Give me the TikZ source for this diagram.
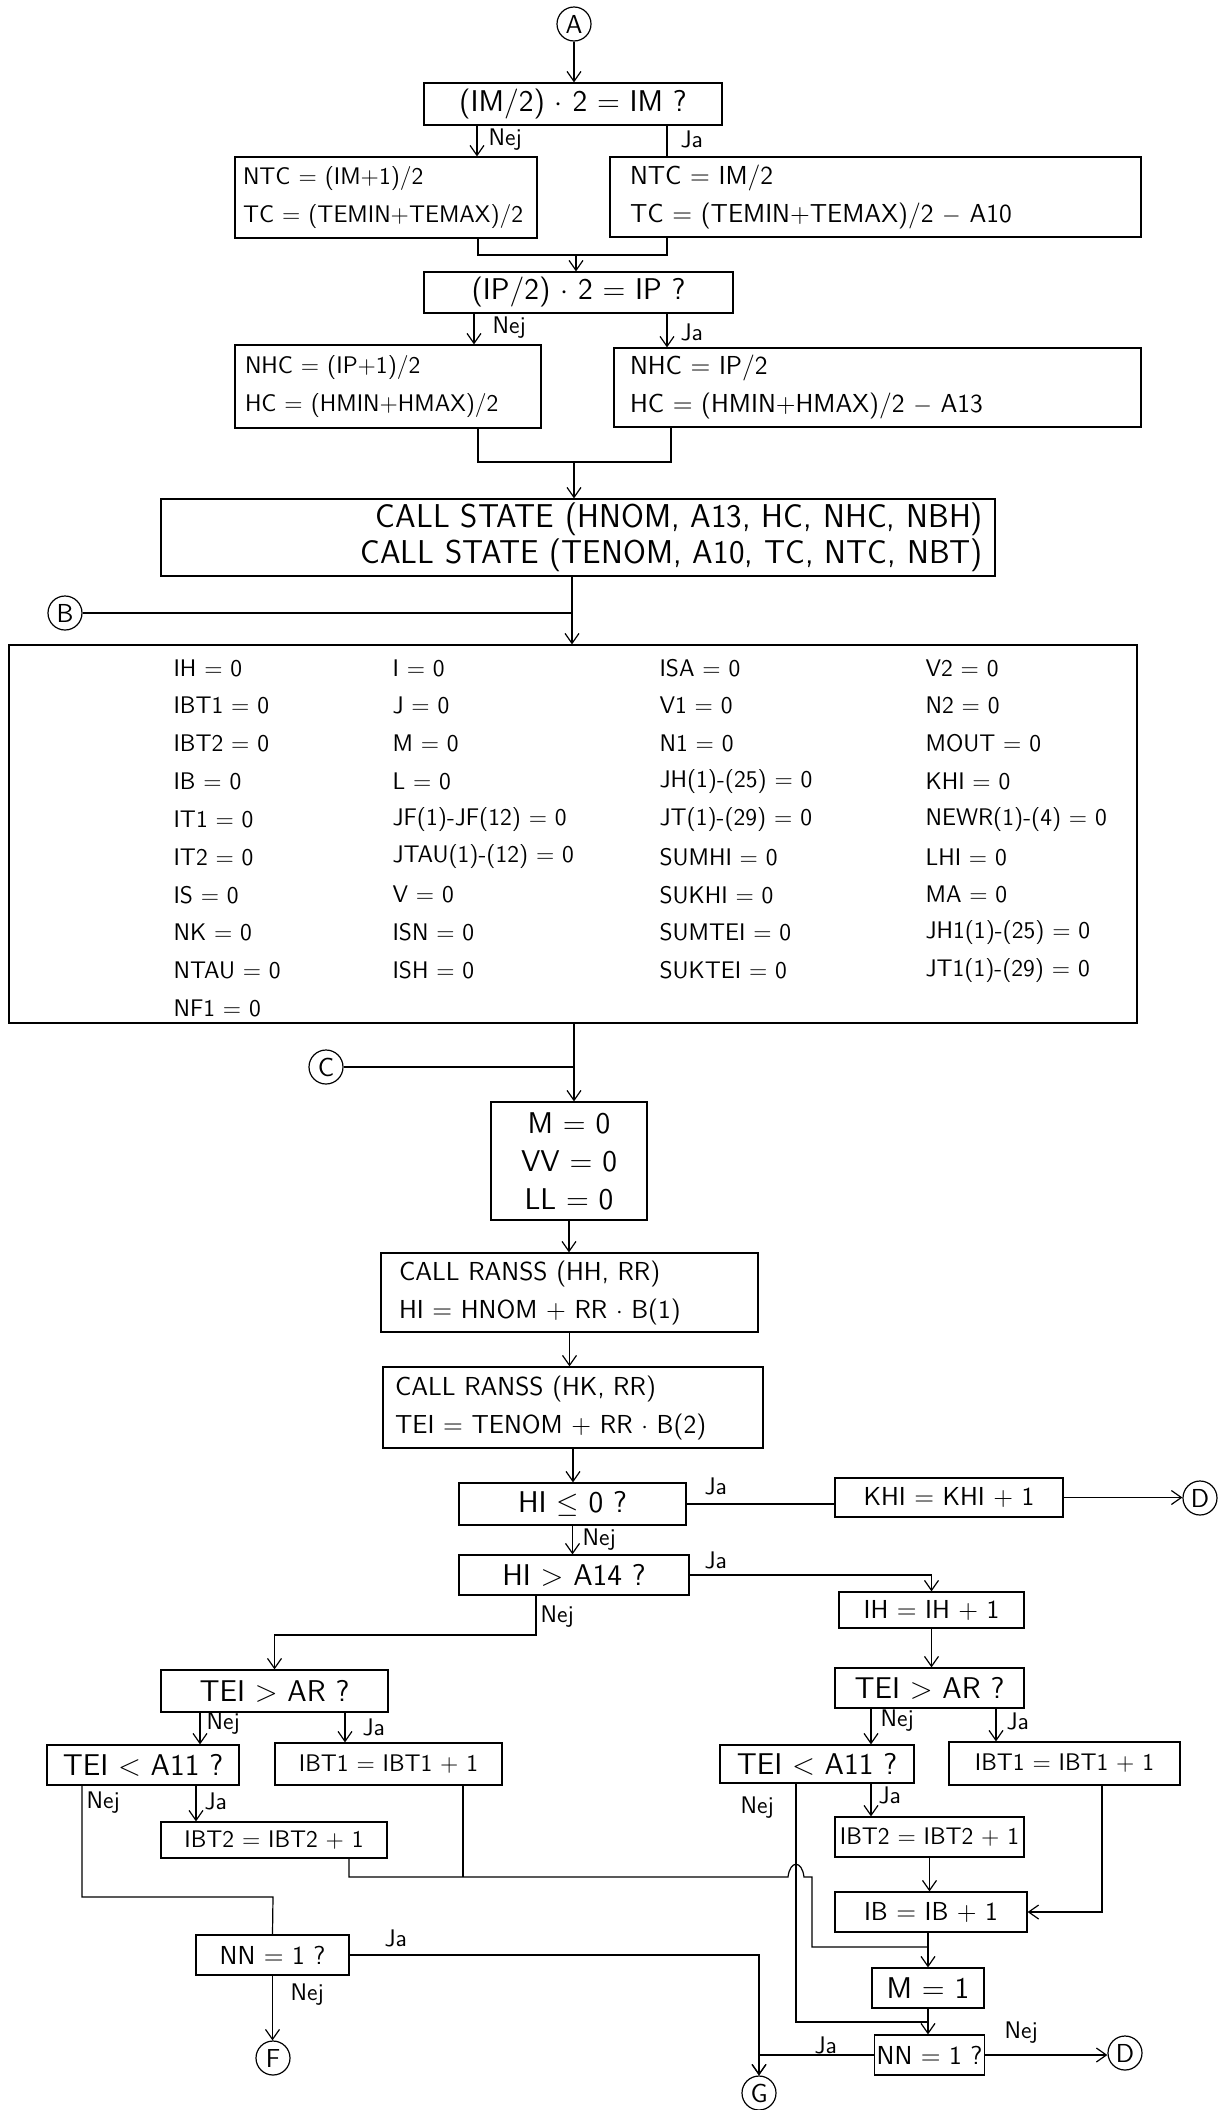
\documentclass[tikz,border=0pt]{standalone}
\usepackage{amsmath}
\usepackage{amssymb}
\usetikzlibrary{arrows.meta}

\newcommand{\flowfont}{\sffamily\fontsize{13}{19}\selectfont}
\newcommand{\smallflowfont}{\sffamily\fontsize{12}{19}\selectfont}
\newcommand{\askfont}{\sffamily\fontsize{15}{19}\selectfont}
\newcommand{\statefont}{\sffamily\fontsize{16.5}{18}\selectfont}
\newcommand{\gridfont}{\sffamily\fontsize{12}{15}\selectfont}
\newcommand{\tagfont}{\sffamily\fontsize{12}{14}\selectfont}

\tikzset{
  box/.style={draw, rectangle, inner sep=2pt, align=left, font=\flowfont},
  lbox/.style={box, text width=#1},
  ask/.style={box, font=\askfont},
  conn/.style={draw, circle, minimum size=17pt, inner sep=0pt, font=\flowfont},
  tag/.style={anchor=west, inner sep=0pt, font=\tagfont},
  cell/.style={anchor=west, inner sep=0pt, font=\gridfont},
}

\begin{document}
\begin{tikzpicture}[x=0.5pt, y=-0.5pt, semithick, >={Straight Barb[length=5pt,width=7pt]}]
    \useasboundingbox (0,0) rectangle (1224,2110);

    % Connector circles
    \node[conn] (A) at (574,24) {A};
    \node[conn] (B) at (65,613) {B};
    \node[conn] (C) at (326,1067) {C};
    \node[conn] (D1) at (1200,1498) {D};
    \node[conn] (D2) at (1125,2053) {D};
    \node[conn] (F) at (273,2058) {F};
    \node[conn] (G) at (759,2093) {G};

    % Start values
    \node[ask, minimum width=149pt, minimum height=21pt] (dIM) at (573,104) {(IM/2) $\cdot$ 2 = IM ?};
    \node[lbox=143pt, font=\smallflowfont, inner xsep=4pt, minimum height=40.5pt] (nIMno) at (386,197.5) {NTC = (IM+1)/2\\TC = (TEMIN+TEMAX)/2};
    \node[lbox=245.5pt, inner xsep=10pt, minimum height=40pt] (nIMja) at (875.5,197) {NTC = IM/2\\TC = (TEMIN+TEMAX)/2 $-$ A10};
    \node[ask, minimum width=154.5pt, minimum height=20.5pt] (dIP) at (578.5,292.5) {(IP/2) $\cdot$ 2 = IP ?};
    \node[lbox=143pt, font=\smallflowfont, inner xsep=5pt, minimum height=41.5pt] (nIPno) at (388,386.5) {NHC = (IP+1)/2\\HC = (HMIN+HMAX)/2};
    \node[lbox=247.5pt, inner xsep=8pt, minimum height=39.5pt] (nIPja) at (877.5,387.5) {NHC = IP/2\\HC = (HMIN+HMAX)/2 $-$ A13};
    \node[box, font=\statefont, align=right, text width=405pt, inner xsep=6pt, minimum height=37.5pt] (state) at (578,537.5)
        {CALL STATE (HNOM, A13, HC, NHC, NBH)\\CALL STATE (TENOM, A10, TC, NTC, NBT)};

    % Joins
    \coordinate (j1) at (576,255);
    \coordinate (j2) at (574,462);
    \coordinate (j3) at (572,613);
    \coordinate (j4) at (574,1067);
    \coordinate (j5) at (536,1635);
    \coordinate (j6) at (273,1897);
    \coordinate (j7) at (812,1947);
    \coordinate (j9) at (463,1877);
    \coordinate (j10) at (928,2022);

    % Zero setting
    \node[box, minimum width=564pt, minimum height=189pt] (init) at (573,834) {};
    \foreach \r/\t in {1/IH = 0, 2/IBT1 = 0, 3/IBT2 = 0, 4/IB = 0, 5/IT1 = 0, 6/IT2 = 0, 7/IS = 0, 8/NK = 0, 9/NTAU = 0, 10/NF1 = 0}
        \node[cell] (ca\r) at (173,{668+37.8*(\r-1)}) {\t};
    \foreach \r/\t in {1/I = 0, 2/J = 0, 3/M = 0, 4/L = 0, 5/JF(1)-JF(12) = 0, 6/JTAU(1)-(12) = 0, 7/V = 0, 8/ISN = 0, 9/ISH = 0}
        \node[cell] (cb\r) at (392,{668+37.8*(\r-1)}) {\t};
    \foreach \r/\t in {1/ISA = 0, 2/V1 = 0, 3/N1 = 0, 4/JH(1)-(25) = 0, 5/JT(1)-(29) = 0, 6/SUMHI = 0, 7/SUKHI = 0, 8/SUMTEI = 0, 9/SUKTEI = 0}
        \node[cell] (cc\r) at (659,{668+37.8*(\r-1)}) {\t};
    \foreach \r/\t in {1/V2 = 0, 2/N2 = 0, 3/MOUT = 0, 4/KHI = 0, 5/NEWR(1)-(4) = 0, 6/LHI = 0, 7/MA = 0, 8/JH1(1)-(25) = 0, 9/JT1(1)-(29) = 0}
        \node[cell] (cd\r) at (925,{668+37.8*(\r-1)}) {\t};

    % Draws
    \node[ask, align=center, minimum width=78pt, minimum height=59pt] (mvl) at (569,1161) {M = 0\\VV = 0\\LL = 0};
    \node[lbox=170.5pt, inner xsep=9pt, minimum height=39.5pt] (ranss1) at (569.5,1292.5) {CALL RANSS (HH, RR)\\HI = HNOM + RR $\cdot$ B(1)};
    \node[lbox=178pt, inner xsep=6pt, minimum height=40.5pt] (ranss2) at (573,1407.5) {CALL RANSS (HK, RR)\\TEI = TENOM + RR $\cdot$ B(2)};

    % Tests
    \node[ask, minimum width=113.5pt, minimum height=21pt] (dHI0) at (572.5,1504) {HI $\leq$ 0 ?};
    \node[box, minimum width=114pt, minimum height=19.5pt] (khi) at (949,1497.5) {KHI = KHI + 1};
    \node[ask, minimum width=115pt, minimum height=20pt] (dHIA) at (574,1575) {HI > A14 ?};
    \node[box, minimum width=92.5pt, minimum height=18pt] (ih) at (931.5,1610) {IH = IH + 1};

    % Left branch
    \node[ask, minimum width=113.5pt, minimum height=21pt] (dTEl) at (274.5,1691) {TEI > AR ?};
    \node[ask, minimum width=96pt, minimum height=20pt] (dTLl) at (143,1765) {TEI < A11 ?};
    \node[box, font=\smallflowfont, minimum width=113.5pt, minimum height=21pt] (bt1l) at (388.5,1764) {IBT1 = IBT1 + 1};
    \node[box, font=\smallflowfont, minimum width=113pt, minimum height=18pt] (bt2l) at (274,1840) {IBT2 = IBT2 + 1};
    \node[box, inner xsep=1pt, minimum width=76.5pt, minimum height=20pt] (nnl) at (272.5,1955) {NN = 1 ?};

    % Right branch
    \node[ask, minimum width=94.5pt, minimum height=20pt] (dTEr) at (929.5,1688) {TEI > AR ?};
    \node[ask, minimum width=97pt, minimum height=19pt] (dTLr) at (817,1764) {TEI < A11 ?};
    \node[box, font=\smallflowfont, minimum width=115.5pt, minimum height=21.5pt] (bt1r) at (1064.5,1763.5) {IBT1 = IBT1 + 1};
    \node[box, font=\smallflowfont, minimum width=94.5pt, minimum height=20pt] (bt2r) at (929.5,1837) {IBT2 = IBT2 + 1};
    \node[box, minimum width=96pt, minimum height=20pt] (ib) at (931,1912) {IB = IB + 1};
    \node[ask, minimum width=56pt, minimum height=20pt] (m1) at (928,1988) {M = 1};
    \node[box, inner xsep=1pt, minimum width=54.5pt, minimum height=20pt] (nnr) at (929.5,2055) {NN = 1 ?};

    % Lines, top part
    \draw[->] (A.south) -- (A.south |- dIM.north);
    \draw[->] (dIM.south -| 477,0) -- (nIMno.north -| 477,0);
    \draw (dIM.south -| 667,0) -- (nIMja.north -| 667,0);
    \draw (nIMno.south -| 478,0) |- (j1) -| (nIMja.south -| 667,0);
    \draw[->] (j1) -- (j1 |- dIP.north);
    \draw[->] (dIP.south -| 474,0) -- (nIPno.north -| 474,0);
    \draw[->] (dIP.south -| 667,0) -- (nIPja.north -| 667,0);
    \draw (nIPno.south -| 478,0) |- (j2) -| (nIPja.south -| 671,0);
    \draw[->] (j2) -- (j2 |- state.north);
    \draw[->] (state.south -| j3) -- (j3 |- init.north);
    \draw (B) -- (j3);
    \draw[->] (init.south -| j4) -- (j4 |- mvl.north);
    \draw (C) -- (j4);
    \draw[->] (mvl.south) -- (mvl.south |- ranss1.north);
    \draw[->] (ranss1.south) -- (ranss1.south |- ranss2.north);
    \draw[->] (ranss2.south) -- (ranss2.south |- dHI0.north);

    % Lines, tests
    \draw (dHI0.east) -- (dHI0.east -| khi.west);
    \draw[->] (khi.east) -- (khi.east -| D1.west);
    \draw[->] (dHI0.south) -- (dHI0.south |- dHIA.north);
    \draw[->] (dHIA.east) -| (ih.north);
    \draw[->] (ih.south) -- (ih.south |- dTEr.north);
    \draw[->] (dHIA.south -| j5) -- (j5) -| (dTEl.north);

    % Lines, left branch
    \draw[->] (dTEl.south -| 200,0) -- (dTLl.north -| 200,0);
    \draw[->] (dTEl.south -| 345,0) -- (bt1l.north -| 345,0);
    \draw (dTLl.south -| 82,0) |- (j6) -- (nnl.north);
    \draw[->] (dTLl.south -| 196,0) -- (bt2l.north -| 196,0);
    \draw (bt1l.south -| j9) -- (j9);
    \draw (bt2l.south -| 349,0) |- (788,1877) .. controls (790,1860) and (802,1860) .. (804,1877) -| (j7) -- (j7 -| m1.north);
    \draw[->] (nnl.south) -- (nnl.south |- F.north);
    \draw[->] (nnl.east) -| (G.north);

    % Lines, right branch
    \draw[->] (dTEr.south -| 871,0) -- (dTLr.north -| 871,0);
    \draw[->] (dTEr.south -| 996,0) -- (bt1r.north -| 996,0);
    \draw (dTLr.south -| 796,0) |- (j10);
    \draw[->] (dTLr.south -| 871,0) -- (bt2r.north -| 871,0);
    \draw[->] (bt2r.south) -- (bt2r.south |- ib.north);
    \draw[->] (bt1r.south -| 1102,0) |- (ib.east);
    \draw[->] (ib.south -| m1.north) -- (m1.north);
    \draw[->] (m1.south) -- (m1.south |- nnr.north);
    \draw[->] (nnr.east) -- (nnr.east -| D2.west);
    \draw[->] (nnr.west) -| (G.north);

    % Ja / Nej
    \node[tag] (t1) at (488,140) {Nej};
    \node[tag] (t2) at (680,139) {Ja};
    \node[tag] (t3) at (492,328) {Nej};
    \node[tag] (t4) at (680,332) {Ja};
    \node[tag] (t5) at (704,1486) {Ja};
    \node[tag] (t6) at (582,1540) {Nej};
    \node[tag] (t7) at (704,1560) {Ja};
    \node[tag] (t8) at (540,1617) {Nej};
    \node[tag] (t9) at (206,1724) {Nej};
    \node[tag] (t10) at (362,1727) {Ja};
    \node[tag] (t11) at (86,1803) {Nej};
    \node[tag] (t12) at (204,1801) {Ja};
    \node[tag] (t13) at (880,1721) {Nej};
    \node[tag] (t14) at (1006,1721) {Ja};
    \node[tag] (t15) at (740,1808) {Nej};
    \node[tag] (t16) at (878,1795) {Ja};
    \node[tag] (t17) at (384,1938) {Ja};
    \node[tag] (t18) at (290,1995) {Nej};
    \node[tag] (t19) at (814,2045) {Ja};
    \node[tag] (t20) at (1004,2033) {Nej};
\end{tikzpicture}
\end{document}
